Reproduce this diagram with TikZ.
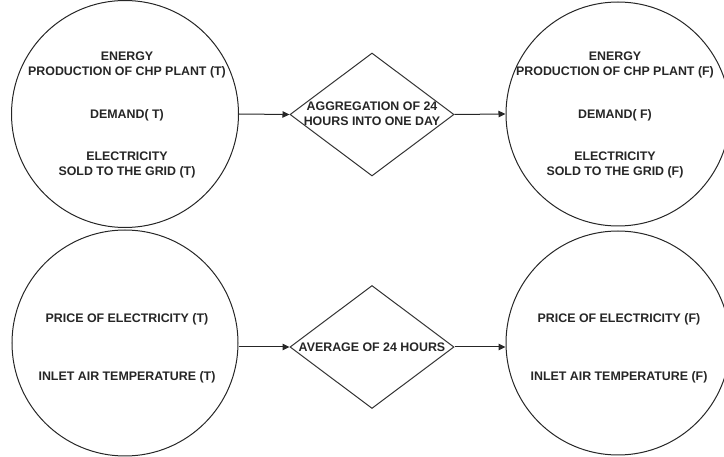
\documentclass[tikz,border=0pt]{standalone}
\usepackage{fontspec}
\setmainfont{Liberation Sans}
\usetikzlibrary{shapes.geometric,arrows.meta}
\begin{document}
\begin{tikzpicture}[x=1pt,y=-1pt,
  every node/.style={text=black!85},
  state/.style={circle,draw=black!85,line width=1pt,inner sep=0pt},
  process/.style={diamond,draw=black!80,line width=1pt,inner sep=0pt,
    minimum width=164pt,minimum height=123pt},
  lbl/.style={font=\bfseries\fontsize{12.4}{15}\selectfont,align=center,inner sep=0pt},
  flow/.style={draw=black!85,line width=1pt,-{Triangle[length=7pt,width=6.5pt]}}]
\useasboundingbox (0,0) rectangle (724,457);
\clip (0,0) rectangle (724,457);

% hourly and daily data sets
\node[state,minimum size=227pt] (hourA) at (125,114) {};
\node[state,minimum size=224pt] (dayA)  at (618,114) {};
\node[state,minimum size=226pt] (hourB) at (125,343) {};
\node[state,minimum size=224pt] (dayB)  at (618,343) {};

% conversion steps
\node[process] (agg) at (372,114.5) {};
\node[process] (avg) at (372,347) {};

% texts inside the data sets
\node[lbl] (hA1) at (127,64.5)  {ENERGY\\PRODUCTION OF CHP PLANT (T)};
\node[lbl] (hA2) at (127,115)   {DEMAND( T)};
\node[lbl] (hA3) at (127,165)   {ELECTRICITY\\SOLD TO THE GRID (T)};
\node[lbl] (dA1) at (615,64.5)  {ENERGY\\PRODUCTION OF CHP PLANT (F)};
\node[lbl] (dA2) at (615,115)   {DEMAND( F)};
\node[lbl] (dA3) at (615,165)   {ELECTRICITY\\SOLD TO THE GRID (F)};
\node[lbl] (hB1) at (127,319)   {PRICE OF ELECTRICITY (T)};
\node[lbl] (hB2) at (127,377)   {INLET AIR TEMPERATURE (T)};
\node[lbl] (dB1) at (619,319)   {PRICE OF ELECTRICITY (F)};
\node[lbl] (dB2) at (619,377)   {INLET AIR TEMPERATURE (F)};

% texts inside the steps
\node[lbl] (aggT) at (372,114) {AGGREGATION OF 24\\HOURS INTO ONE DAY};
\node[lbl] (avgT) at (avg) {AVERAGE OF 24 HOURS};

% connectors
\draw[flow] (hourA.east) -- (agg.west);
\draw[flow] (agg.east) -- (dayA.west);
\draw[flow] (hourB.east |- avg.west) -- (avg.west);
\draw[flow] (avg.east) -- (avg.east -| dayB.west);
\end{tikzpicture}
\end{document}
